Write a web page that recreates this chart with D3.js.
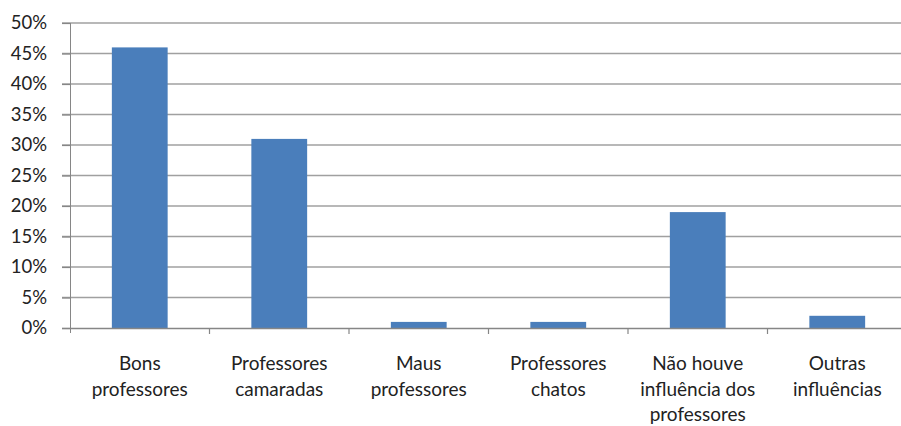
<!DOCTYPE html>
<html>
<head>
<meta charset="utf-8">
<script src="https://cdn.jsdelivr.net/npm/d3@7"></script>
<style>
  body { margin: 0; background: #fff; }
  svg text { font-family: Lato, "Liberation Sans", sans-serif; fill: #222; }
</style>
</head>
<body>
<div id="chart"></div>
<script>
// categories (multi-line labels) and values in percent
const categories = [
  ['Bons', 'professores'],
  ['Professores', 'camaradas'],
  ['Maus', 'professores'],
  ['Professores', 'chatos'],
  ['Não houve', 'influência dos', 'professores'],
  ['Outras', 'influências']
];
const values = [46, 31, 1, 1, 19, 2];
const yTicks = [0, 5, 10, 15, 20, 25, 30, 35, 40, 45, 50];

const width = 901, height = 426,
  margin = {left: 70, top: 23, right: -6, bottom: 98};

const svg = d3.select('#chart').append('svg')
  .attr('width', width)
  .attr('height', height);

const x = d3.scaleBand()
  .domain(d3.range(categories.length))
  .range([margin.left, width - margin.right])
  .paddingInner(0.6)
  .paddingOuter(0.3);

const y = d3.scaleLinear()
  .domain([0, 50])
  .range([height - margin.bottom, margin.top]);

// gridlines
svg.append('g').attr('class', 'grid')
  .selectAll('line')
  .data(yTicks.filter(d => d > 0))
  .enter().append('line')
  .attr('x1', margin.left - 8)
  .attr('x2', width)
  .attr('y1', d => y(d))
  .attr('y2', d => y(d))
  .attr('stroke', '#a0a0a0')
  .attr('stroke-width', 1.5);

// y axis
const yAxis = d3.axisLeft(y)
  .tickValues(yTicks)
  .tickFormat(d => d + '%')
  .tickSize(8)
  .tickPadding(15);

const gy = svg.append('g')
  .attr('transform', 'translate(' + margin.left + ',0)')
  .call(yAxis);
gy.select('.domain').attr('stroke', '#868686').attr('d',
  'M0.5,' + y(50) + 'V' + (y(0) + 5));
gy.selectAll('.tick line').attr('stroke', '#868686').attr('stroke-width', 1.2);
gy.selectAll('.tick text').style('font-size', '18.5px').attr('fill', '#222');

// bars
svg.append('g').selectAll('rect')
  .data(values)
  .enter().append('rect')
  .attr('x', (d, i) => x(i))
  .attr('width', x.bandwidth())
  .attr('y', d => y(d))
  .attr('height', d => y(0) - y(d))
  .attr('fill', '#4a7ebb');

// x axis
const step = x.step();
const xPos = d3.scaleLinear()
  .domain([0, categories.length])
  .range([margin.left, margin.left + step * categories.length]);

const gx = svg.append('g');
gx.append('line')
  .attr('x1', margin.left - 8)
  .attr('x2', width)
  .attr('y1', y(0) + 0.5)
  .attr('y2', y(0) + 0.5)
  .attr('stroke', '#868686')
  .attr('stroke-width', 1.5);

gx.selectAll('.xtick')
  .data(d3.range(1, categories.length + 1))
  .enter().append('line')
  .attr('class', 'xtick')
  .attr('x1', d => xPos(d))
  .attr('x2', d => xPos(d))
  .attr('y1', y(0))
  .attr('y2', y(0) + 6)
  .attr('stroke', '#868686')
  .attr('stroke-width', 1.2);

const labels = gx.selectAll('.xlabel')
  .data(categories)
  .enter().append('text')
  .attr('class', 'xlabel')
  .attr('text-anchor', 'middle')
  .style('font-size', '19px')
  .attr('transform', (d, i) =>
    'translate(' + (x(i) + x.bandwidth() / 2) + ',' + (y(0) + 42) + ')');

labels.selectAll('tspan')
  .data(d => d)
  .enter().append('tspan')
  .attr('x', 0)
  .attr('dy', (d, i) => i === 0 ? 0 : 25.5)
  .text(d => d);
</script>
</body>
</html>
